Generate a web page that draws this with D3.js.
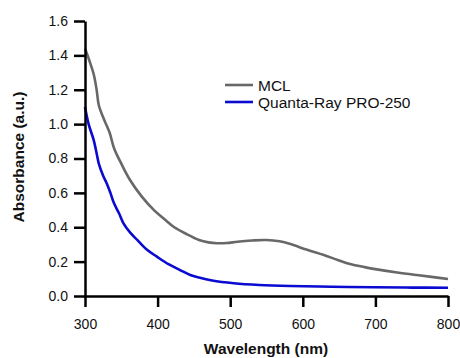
<!DOCTYPE html>
<html><head><meta charset="utf-8">
<script src="https://cdn.jsdelivr.net/npm/d3@7"></script>
<style>body{margin:0;background:#fff}svg{display:block}text{font-family:Arial,"Liberation Sans",sans-serif}</style>
</head><body>
<svg id="c" width="460" height="358"></svg>
<script>
const xTicks = [300, 400, 500, 600, 700, 800];
const yTicks = [0.0, 0.2, 0.4, 0.6, 0.8, 1.0, 1.2, 1.4, 1.6];
const seriesNames = ["MCL", "Quanta-Ray PRO-250"];
const mclWavelength = [300, 306, 312, 316, 319, 324, 330, 334, 340, 350, 362, 378, 395, 410, 422, 440, 457, 470, 482, 495, 510, 530, 550, 568, 583, 605, 629, 648, 665, 685, 702, 730, 757, 780, 800];
const mclAbs = [1.44, 1.37, 1.29, 1.2, 1.11, 1.05, 0.99, 0.95, 0.86, 0.77, 0.675, 0.58, 0.5, 0.445, 0.403, 0.36, 0.326, 0.312, 0.307, 0.308, 0.316, 0.323, 0.326, 0.318, 0.302, 0.27, 0.238, 0.21, 0.186, 0.168, 0.155, 0.137, 0.122, 0.11, 0.099];
const qrWavelength = [300, 305, 312, 316, 319, 325, 330, 335, 340, 347, 353, 362, 372, 385, 399, 415, 431, 445, 457, 475, 505, 540, 583, 640, 698, 750, 800];
const qrAbs = [1.1, 1.0, 0.907, 0.83, 0.77, 0.7, 0.655, 0.6, 0.539, 0.48, 0.423, 0.37, 0.326, 0.27, 0.229, 0.185, 0.151, 0.122, 0.107, 0.09, 0.074, 0.064, 0.058, 0.054, 0.051, 0.049, 0.048];
const colors = ["#686868", "#0a0ad0"];

const svg = d3.select("#c");
const x = d3.scaleLinear().domain([300, 800]).range([85, 448]);
const y = d3.scaleLinear().domain([0, 1.6]).range([296, 21]);

const line = d3.line().x(d => x(d[0])).y(d => y(d[1])).curve(d3.curveCatmullRom.alpha(0.5));
const sets = [d3.zip(mclWavelength, mclAbs), d3.zip(qrWavelength, qrAbs)];
sets.forEach((s, i) => {
  svg.append("path").datum(s).attr("d", line).attr("fill", "none")
    .attr("stroke", colors[i]).attr("stroke-width", 2.6).attr("stroke-linejoin", "round");
});

svg.append("text").attr("x", 266).attr("y", 354).attr("text-anchor", "middle")
  .attr("font-size", 15.5).attr("font-weight", "bold").attr("fill", "#111").text("Wavelength (nm)");
svg.append("text").attr("transform", "translate(24,157) rotate(-90)").attr("text-anchor", "middle")
  .attr("font-size", 15.5).attr("font-weight", "bold").attr("fill", "#111").text("Absorbance (a.u.)");

const leg = svg.append("g");
seriesNames.forEach((n, i) => {
  const yy = 85 + i * 17;
  leg.append("line").attr("x1", 225).attr("x2", 253).attr("y1", yy).attr("y2", yy)
    .attr("stroke", colors[i]).attr("stroke-width", 2.6);
  leg.append("text").attr("x", 258).attr("y", yy + 5.5).attr("font-size", 15.5).attr("fill", "#111").text(n);
});

// axes last, so nothing can cover them
const xAxis = svg.append("g").attr("transform", "translate(0,296)")
  .call(d3.axisBottom(x).tickValues(xTicks).tickSize(11).tickSizeOuter(0).tickPadding(12).tickFormat(d3.format("d")));
const yAxis = svg.append("g").attr("transform", "translate(85,0)")
  .call(d3.axisLeft(y).tickValues(yTicks).tickSize(11).tickSizeOuter(0).tickPadding(6).tickFormat(d3.format(".1f")));
[xAxis, yAxis].forEach(a => {
  a.attr("color", "black");
  a.selectAll("path.domain").attr("stroke", "black").attr("stroke-width", 2.5).style("stroke", "black").style("stroke-width", "2.5px");
  a.selectAll(".tick line").attr("stroke", "black").attr("stroke-width", 2.5).style("stroke", "black").style("stroke-width", "2.5px");
  a.selectAll("text").attr("font-size", 14).attr("fill", "#111").attr("font-family", "Arial, 'Liberation Sans', sans-serif");
});
</script>
</body></html>
